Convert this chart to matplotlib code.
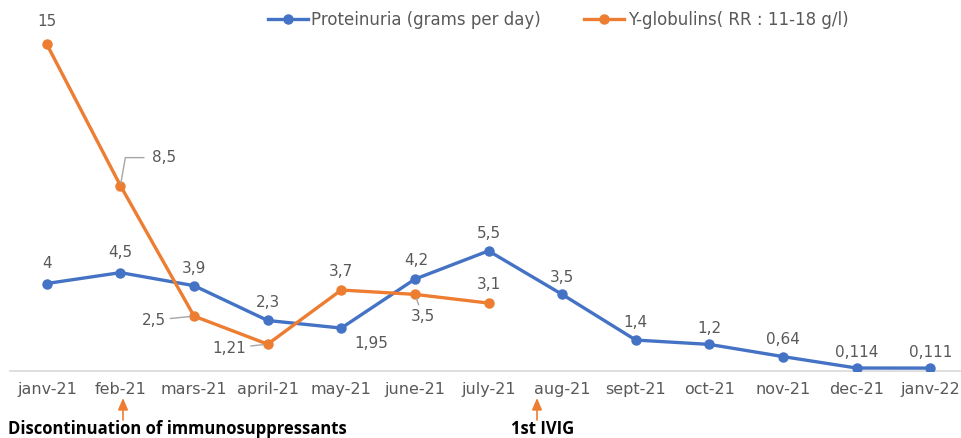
import matplotlib
matplotlib.use("Agg")
import matplotlib.pyplot as plt
from matplotlib.patches import FancyArrowPatch

months = ["janv-21", "feb-21", "mars-21", "april-21", "may-21", "june-21", "july-21",
          "aug-21", "sept-21", "oct-21", "nov-21", "dec-21", "janv-22"]
proteinuria = [4, 4.5, 3.9, 2.3, 1.95, 4.2, 5.5, 3.5, 1.4, 1.2, 0.64, 0.114, 0.111]
globulins = [15, 8.5, 2.5, 1.21, 3.7, 3.5, 3.1]

prot_labels = ["4", "4,5", "3,9", "2,3", "1,95", "4,2", "5,5", "3,5", "1,4", "1,2", "0,64", "0,114", "0,111"]
glob_labels = ["15", "8,5", "2,5", "1,21", "3,7", "3,5", "3,1"]

BLUE = "#4472C4"
ORANGE = "#ED7D31"
GREY_TXT = "#595959"
GREY_LINE = "#A6A6A6"
FONT = "DejaVu Sans"

fig = plt.figure(figsize=(9.62, 4.38), dpi=100)
ax = fig.add_axes([10 / 962, 67.5 / 438, 957 / 962, 348 / 438])

x_all = list(range(len(months)))
lp, = ax.plot(x_all, proteinuria, color=BLUE, lw=2.4, marker="o", ms=6.5,
              label="Proteinuria (grams per day)", zorder=3)
lg, = ax.plot(x_all[:len(globulins)], globulins, color=ORANGE, lw=2.4, marker="o", ms=6.5,
              label="Y-globulins( RR : 11-18 g/l)", zorder=3)

ax.set_xlim(-0.5, 12.5)
ax.set_ylim(0, 16)
ax.set_xticks(x_all)
ax.set_xticklabels(months, fontsize=11.5, color=GREY_TXT, family=FONT)
ax.tick_params(axis="x", length=0, pad=8)
ax.set_yticks([])
for s in ["top", "right", "left"]:
    ax.spines[s].set_visible(False)
ax.spines["bottom"].set_color("#D9D9D9")
ax.spines["bottom"].set_linewidth(1.2)

lbl_font = dict(fontsize=11, color=GREY_TXT, family=FONT, ha="center", va="center")

# label offsets in pixels from the point
prot_off = [(0, 20), (0, 20), (0, 17), (0, 18), (30, -15), (1, 19), (0, 17),
            (0, 17), (0, 18), (0, 16), (0, 17), (0, 16), (0, 16)]
for i, (v, t) in enumerate(zip(proteinuria, prot_labels)):
    ax.annotate(t, (i, v), xytext=prot_off[i], textcoords="offset pixels", **lbl_font)

glob_off = [(0, 23), (44, 28), (-40, -4), (-38, -4), (0, 19), (8, -22), (0, 19)]
leader = {
    1: dict(arrowstyle="-", color=GREY_LINE, lw=1, shrinkA=4, shrinkB=2,
            connectionstyle="angle,angleA=0,angleB=80,rad=0"),
    2: dict(arrowstyle="-", color=GREY_LINE, lw=1, shrinkA=1, shrinkB=3),
    3: dict(arrowstyle="-", color=GREY_LINE, lw=1, shrinkA=1, shrinkB=3),
    5: dict(arrowstyle="-", color=GREY_LINE, lw=1, shrinkA=1, shrinkB=3),
}
for i, (v, t) in enumerate(zip(globulins, glob_labels)):
    ax.annotate(t, (i, v), xytext=glob_off[i], textcoords="offset pixels",
                arrowprops=leader.get(i), **lbl_font)

fig.legend(handles=[lp, lg], loc="center", bbox_to_anchor=(558 / 962, 1 - 20 / 438), ncol=2,
           frameon=False, handlelength=2.4, columnspacing=2.6, handletextpad=0.2,
           prop=dict(family=FONT, size=12), labelcolor=GREY_TXT)

# event arrows under the axis
for xi in [123, 537]:
    fig.add_artist(FancyArrowPatch(
        (xi / 962, 18 / 438), (xi / 962, 40 / 438), transform=fig.transFigure,
        arrowstyle="-|>,head_length=0.7,head_width=0.3", color=ORANGE, lw=1.2,
        mutation_scale=10, shrinkA=0, shrinkB=0))

fig.text(8 / 962, 4 / 438, "Discontinuation of immunosuppressants", fontsize=12,
         fontweight="bold", family="Open Sans", va="baseline", ha="left")
fig.text(511 / 962, 4 / 438, "1st IVIG", fontsize=12, fontweight="bold", family="Open Sans",
         va="baseline", ha="left")

fig.savefig("out.png", dpi=100)
